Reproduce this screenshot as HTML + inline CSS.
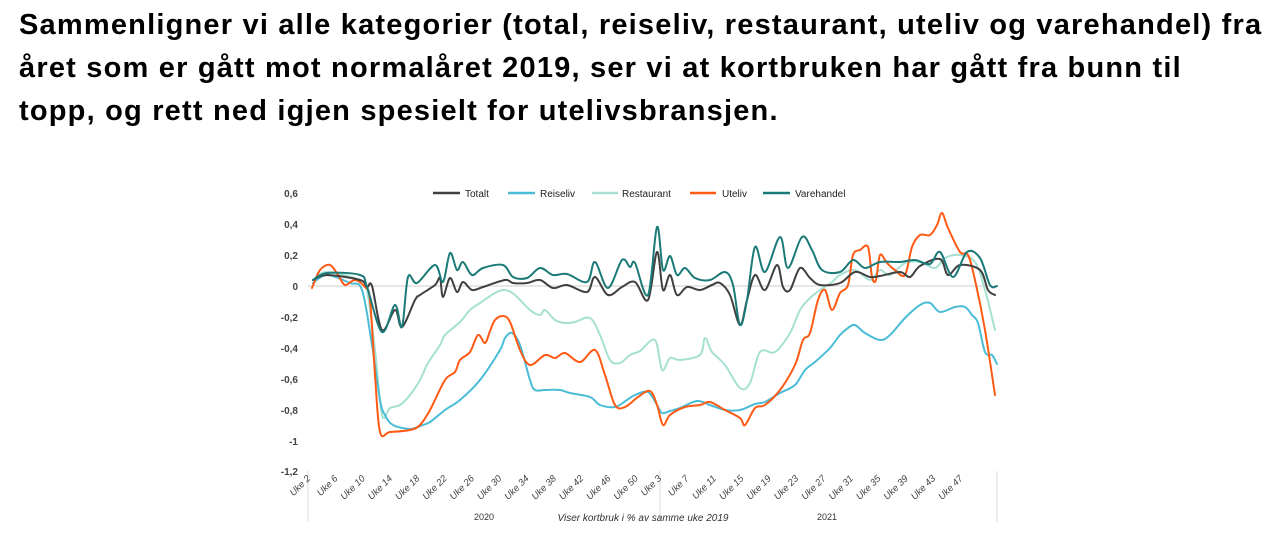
<!DOCTYPE html>
<html><head><meta charset="utf-8"><style>
body{margin:0;background:#fff;width:1280px;height:536px;overflow:hidden;font-family:"Liberation Sans",Arial,sans-serif}
.t{position:absolute;left:19px;top:4px;font-weight:bold;font-size:29px;letter-spacing:1.2px;line-height:43px;color:#000;white-space:nowrap}
svg{position:absolute;left:0;top:0}
</style></head><body>
<div class="t">Sammenligner vi alle kategorier (total, reiseliv, restaurant, uteliv og varehandel) fra<br>året som er gått mot normalåret 2019, ser vi at kortbruken har gått fra bunn til<br>topp, og rett ned igjen spesielt for utelivsbransjen.</div>
<svg width="1280" height="536" xmlns="http://www.w3.org/2000/svg">
<g font-size="10" font-weight="bold" fill="#444" text-anchor="end">
<text x="298" y="197">0,6</text><text x="298" y="228">0,4</text><text x="298" y="259">0,2</text><text x="298" y="290">0</text><text x="298" y="321">-0,2</text><text x="298" y="352">-0,4</text><text x="298" y="383">-0,6</text><text x="298" y="414">-0,8</text><text x="298" y="445">-1</text><text x="298" y="475">-1,2</text>
</g>
<line x1="308" y1="286" x2="997" y2="286" stroke="#ddd" stroke-width="1.5"/>
<g stroke="#ddd" stroke-width="1"><line x1="308" y1="471" x2="308" y2="522"/><line x1="660" y1="471" x2="660" y2="522"/><line x1="997" y1="471" x2="997" y2="522"/></g>
<g id="xl" font-size="9.5" fill="#444" font-style="italic"></g>
<text x="484" y="520" font-size="9" fill="#333" text-anchor="middle">2020</text>
<text x="827" y="520" font-size="9" fill="#333" text-anchor="middle">2021</text>
<text x="643" y="521" font-size="10" fill="#333" font-style="italic" text-anchor="middle">Viser kortbruk i % av samme uke 2019</text>
<g font-size="10" fill="#222">
<line x1="433" y1="193" x2="460" y2="193" stroke="#404040" stroke-width="2.5"/><text x="465" y="197">Totalt</text>
<line x1="508" y1="193" x2="535" y2="193" stroke="#4bbcd6" stroke-width="2.5"/><text x="540" y="197">Reiseliv</text>
<line x1="592" y1="193" x2="618" y2="193" stroke="#a6e0d2" stroke-width="2.5"/><text x="622" y="197">Restaurant</text>
<line x1="690" y1="193" x2="716" y2="193" stroke="#ff5a14" stroke-width="2.5"/><text x="722" y="197">Uteliv</text>
<line x1="763" y1="193" x2="790" y2="193" stroke="#1a7a78" stroke-width="2.5"/><text x="795" y="197">Varehandel</text>
</g>
<g id="series" fill="none" stroke-width="2" stroke-linejoin="round" stroke-linecap="round"></g>
</svg>
<script>
var S=[
["#a6e0d2",[313,280,327,272,360,280,367,290,375,350,382,415,390,408,400,405,410,395,420,380,428,363,440,345,445,335,460,322,470,310,480,303,495,293,505,290,515,295,530,310,540,315,545,310,555,320,565,323,575,322,590,318,600,335,610,360,620,363,630,355,640,351,655,340,662,370,670,358,680,360,700,355,705,338,712,352,725,365,740,388,750,383,760,352,775,352,790,333,800,310,810,298,820,290,832,282,840,275,855,270,870,280,880,270,890,275,905,263,920,262,935,268,945,258,960,255,975,262,985,290,995,330]],
["#4bbcd6",[313,283,327,275,350,283,362,290,372,345,380,400,385,415,393,425,410,429,420,426,430,422,445,410,460,400,480,380,500,350,505,338,512,333,520,345,530,380,535,390,545,390,560,390,570,393,590,397,600,405,615,407,627,400,635,395,648,392,657,405,662,413,670,411,680,408,697,401,710,405,725,410,740,410,755,404,765,402,780,393,795,385,805,370,815,362,830,348,840,335,848,328,855,325,865,333,880,340,890,335,905,318,920,305,930,303,940,312,955,307,965,307,972,315,978,323,985,352,992,355,997,364]],
["#ff5a14",[312,288,320,270,330,265,338,275,345,285,355,280,365,287,370,300,375,375,380,432,390,432,410,430,420,425,430,410,445,380,455,372,460,360,470,352,478,335,485,343,490,331,495,320,503,316,510,322,520,350,530,365,545,355,555,358,565,353,580,362,595,350,605,375,615,405,625,407,638,397,650,391,657,405,663,425,670,415,685,407,700,405,710,402,725,410,740,418,745,425,755,408,765,405,780,390,795,365,803,340,810,333,818,300,825,290,832,310,840,293,848,285,853,255,860,250,868,247,872,277,876,280,880,255,887,263,895,270,905,275,912,247,920,235,930,235,937,225,942,213,948,228,960,252,968,255,975,280,985,330,995,395]],
["#404040",[313,280,327,275,360,280,367,287,372,286,382,330,395,310,402,327,415,300,420,295,435,285,440,278,443,297,450,278,457,292,463,282,472,290,483,287,505,280,513,283,527,283,540,280,553,288,567,285,587,292,595,277,608,295,622,287,635,282,648,300,657,252,663,290,670,275,677,295,687,287,700,290,712,285,720,283,730,295,740,325,747,300,755,275,765,290,777,265,783,287,790,290,800,268,810,278,820,285,840,283,855,272,870,277,880,276,900,272,910,277,920,266,940,259,948,275,960,265,980,270,988,290,995,295]],
["#1a7a78",[313,280,327,273,360,275,367,287,382,332,395,305,402,327,408,277,417,283,435,265,443,282,450,253,457,270,463,262,472,275,483,268,503,265,513,277,527,278,540,268,553,275,567,274,587,282,595,262,608,288,622,260,630,267,635,263,648,295,657,227,663,270,670,256,677,275,685,268,695,278,710,280,725,272,733,285,740,325,747,300,755,247,765,272,780,237,788,268,802,237,812,250,822,270,840,272,853,260,865,268,880,262,900,262,915,260,930,264,940,252,953,277,967,252,980,258,990,285,997,286]]
];
var g=document.getElementById('series'),ns="http://www.w3.org/2000/svg";
S.forEach(function(s){var p=s[1],pts=[];for(var i=0;i<p.length;i+=2)pts.push([p[i],p[i+1]]);
var d="M"+pts[0][0]+","+pts[0][1];
for(var i=0;i<pts.length-1;i++){var p0=pts[i-1]||pts[i],p1=pts[i],p2=pts[i+1],p3=pts[i+2]||p2;
d+=" C"+(p1[0]+(p2[0]-p0[0])/6)+","+(p1[1]+(p2[1]-p0[1])/6)+" "+(p2[0]-(p3[0]-p1[0])/6)+","+(p2[1]-(p3[1]-p1[1])/6)+" "+p2[0]+","+p2[1];}
var e=document.createElementNS(ns,"path");e.setAttribute("d",d);e.setAttribute("stroke",s[0]);g.appendChild(e);});
var xl=document.getElementById('xl');
var labs=["Uke 2","Uke 6","Uke 10","Uke 14","Uke 18","Uke 22","Uke 26","Uke 30","Uke 34","Uke 38","Uke 42","Uke 46","Uke 50","Uke 3","Uke 7","Uke 11","Uke 15","Uke 19","Uke 23","Uke 27","Uke 31","Uke 35","Uke 39","Uke 43","Uke 47"];
labs.forEach(function(l,i){var x=i<13?311+i*27.3:662+(i-13)*27.4;var y=479;var t=document.createElementNS(ns,"text");
t.setAttribute("x",x);t.setAttribute("y",y);t.setAttribute("text-anchor","end");t.setAttribute("transform","rotate(-45 "+x+" "+y+")");t.textContent=l;xl.appendChild(t);});
</script>
</body></html>
